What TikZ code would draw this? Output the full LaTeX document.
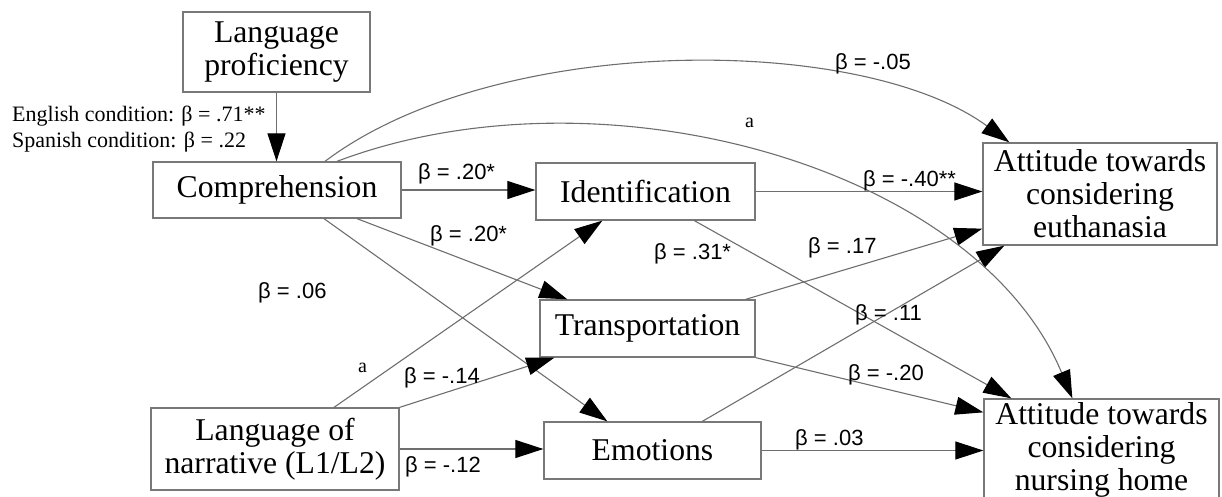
\documentclass[tikz,border=0pt]{standalone}
\usepackage{fontspec}
\setmainfont{Liberation Serif}
\newfontfamily\sansfam{Liberation Sans}
\usetikzlibrary{arrows.meta,calc}
\newcommand\bxfont{\fontsize{31.7}{33}\selectfont}
\newcommand\btfont{\sansfam\fontsize{22}{26}\selectfont}
\newcommand\ntfont{\fontsize{20}{24}\selectfont}
\newcommand\cdfont{\fontsize{22}{26}\selectfont}
\definecolor{boxgray}{RGB}{120,120,120}
\definecolor{linegray}{RGB}{110,110,110}
\tikzset{
  box/.style={draw=boxgray, line width=1.3pt, fill=white, inner sep=0pt,
    align=center, font=\bxfont},
  conn/.style={draw=linegray, line width=1.1pt,
    -{Triangle[length=28pt,width=18pt,black]}},
  beta/.style={anchor=base west, inner sep=0pt, font=\btfont},
  note/.style={anchor=base west, inner sep=0pt, font=\ntfont},
}
\begin{document}
\begin{tikzpicture}[x=1pt,y=-1pt]
\useasboundingbox (0,0) rectangle (1222,497);
\clip (0,0) rectangle (1222,497);

% boxes
\node[box, minimum width=187pt, minimum height=80pt] (LP) at (276.5,52) {Language\\proficiency};
\node[box, minimum width=248pt, minimum height=56pt] (Comp) at (277,190) {Comprehension};
\node[box, minimum width=219pt, minimum height=57pt] (Ident) at (645.5,191.5) {Identification};
\node[box, minimum width=215pt, minimum height=57pt] (Trans) at (647.5,328.5) {Transportation};
\node[box, minimum width=217pt, minimum height=57pt] (Emot) at (652.5,450.5) {Emotions};
\node[box, minimum width=248pt, minimum height=82pt] (LN) at (275,449) {Language of\\narrative (L1/L2)};
\node[box, minimum width=234pt, minimum height=102pt] (Euth) at (1100,194) {Attitude towards\\considering\\euthanasia};
\node[box, minimum width=235pt, minimum height=102pt] (Nurs) at (1101.5,450) {Attitude towards\\considering\\nursing home};

% anchor points on the box edges
\coordinate (cT) at ($(Comp.south)+(80,0)$);
\coordinate (cE) at ($(Comp.south)+(47,0)$);
\coordinate (tIn) at ($(Trans.north west)+(28,0)$);
\coordinate (eIn) at ($(Emot.north west)+(64,0)$);
\coordinate (lI) at ($(LN.north)+(59,0)$);
\coordinate (iIn) at ($(Ident.south west)+(67,0)$);
\coordinate (tInB) at ($(Trans.south west)+(15,0)$);
\coordinate (iN) at ($(Ident.south west)+(159,0)$);
\coordinate (nIn1) at ($(Nurs.north west)+(28,0)$);
\coordinate (tE) at ($(Trans.north east)+(-10,0)$);
\coordinate (uIn1) at ($(Euth.south west)+(0,-17)$);
\coordinate (nIn2) at ($(Nurs.north west)+(0,14)$);
\coordinate (eE) at ($(Emot.north west)+(159,0)$);
\coordinate (uIn2) at ($(Euth.south west)+(22,0)$);
\coordinate (cU) at ($(Comp.north)+(48,0)$);
\coordinate (uTop) at ($(Euth.north west)+(27,0)$);
\coordinate (cN) at ($(Comp.north)+(60,0)$);
\coordinate (nTop) at ($(Nurs.north west)+(89,0)$);

% paths
\draw[conn] (LP.south) -- (LP.south |- Comp.north);
\draw[conn] (Comp.east) -- (Comp.east -| Ident.west);
\draw[conn] (cT) -- (tIn);
\draw[conn] (cE) -- (eIn);
\draw[conn] (lI) -- (iIn);
\draw[conn] (LN.north east) -- (tInB);
\draw[conn] (LN.east) -- (LN.east -| Emot.west);
\draw[conn] (Ident.east) -- (Ident.east -| Euth.west);
\draw[conn] (iN) -- (nIn1);
\draw[conn] (tE) -- (uIn1);
\draw[conn] (Trans.south east) -- (nIn2);
\draw[conn] (Emot.east) -- (Emot.east -| Nurs.west);
\draw[conn] (eE) -- (uIn2);
\draw[conn] (cU) .. controls (495,33) and (860,33) .. (uTop);
\draw[conn] (cN) .. controls (600,62) and (975,165) .. (nTop);

% coefficients
\node[note, font=\cdfont] (cond1) at (12,122) {English condition: β = .71**};
\node[note, font=\cdfont] (cond2) at (12,148) {Spanish condition: β = .22};
\node[beta] (b1) at (418,179) {β = .20*};
\node[beta] (b2) at (430,241) {β = .20*};
\node[beta] (b3) at (258,298) {β = .06};
\node[beta] (b4) at (654,259) {β = .31*};
\node[beta] (b5) at (863,186) {β = -.40**};
\node[beta] (b6) at (835,70) {β = -.05};
\node[note] (a1) at (745,128) {a};
\node[beta] (b7) at (808,253) {β = .17};
\node[beta] (b8) at (855,320) {β = .11};
\node[beta] (b9) at (848,380) {β = -.20};
\node[beta] (b10) at (795,445) {β = .03};
\node[beta] (b11) at (404,383) {β = -.14};
\node[beta] (b12) at (405,472) {β = -.12};
\node[note] (a2) at (358,372) {a};
\end{tikzpicture}
\end{document}
